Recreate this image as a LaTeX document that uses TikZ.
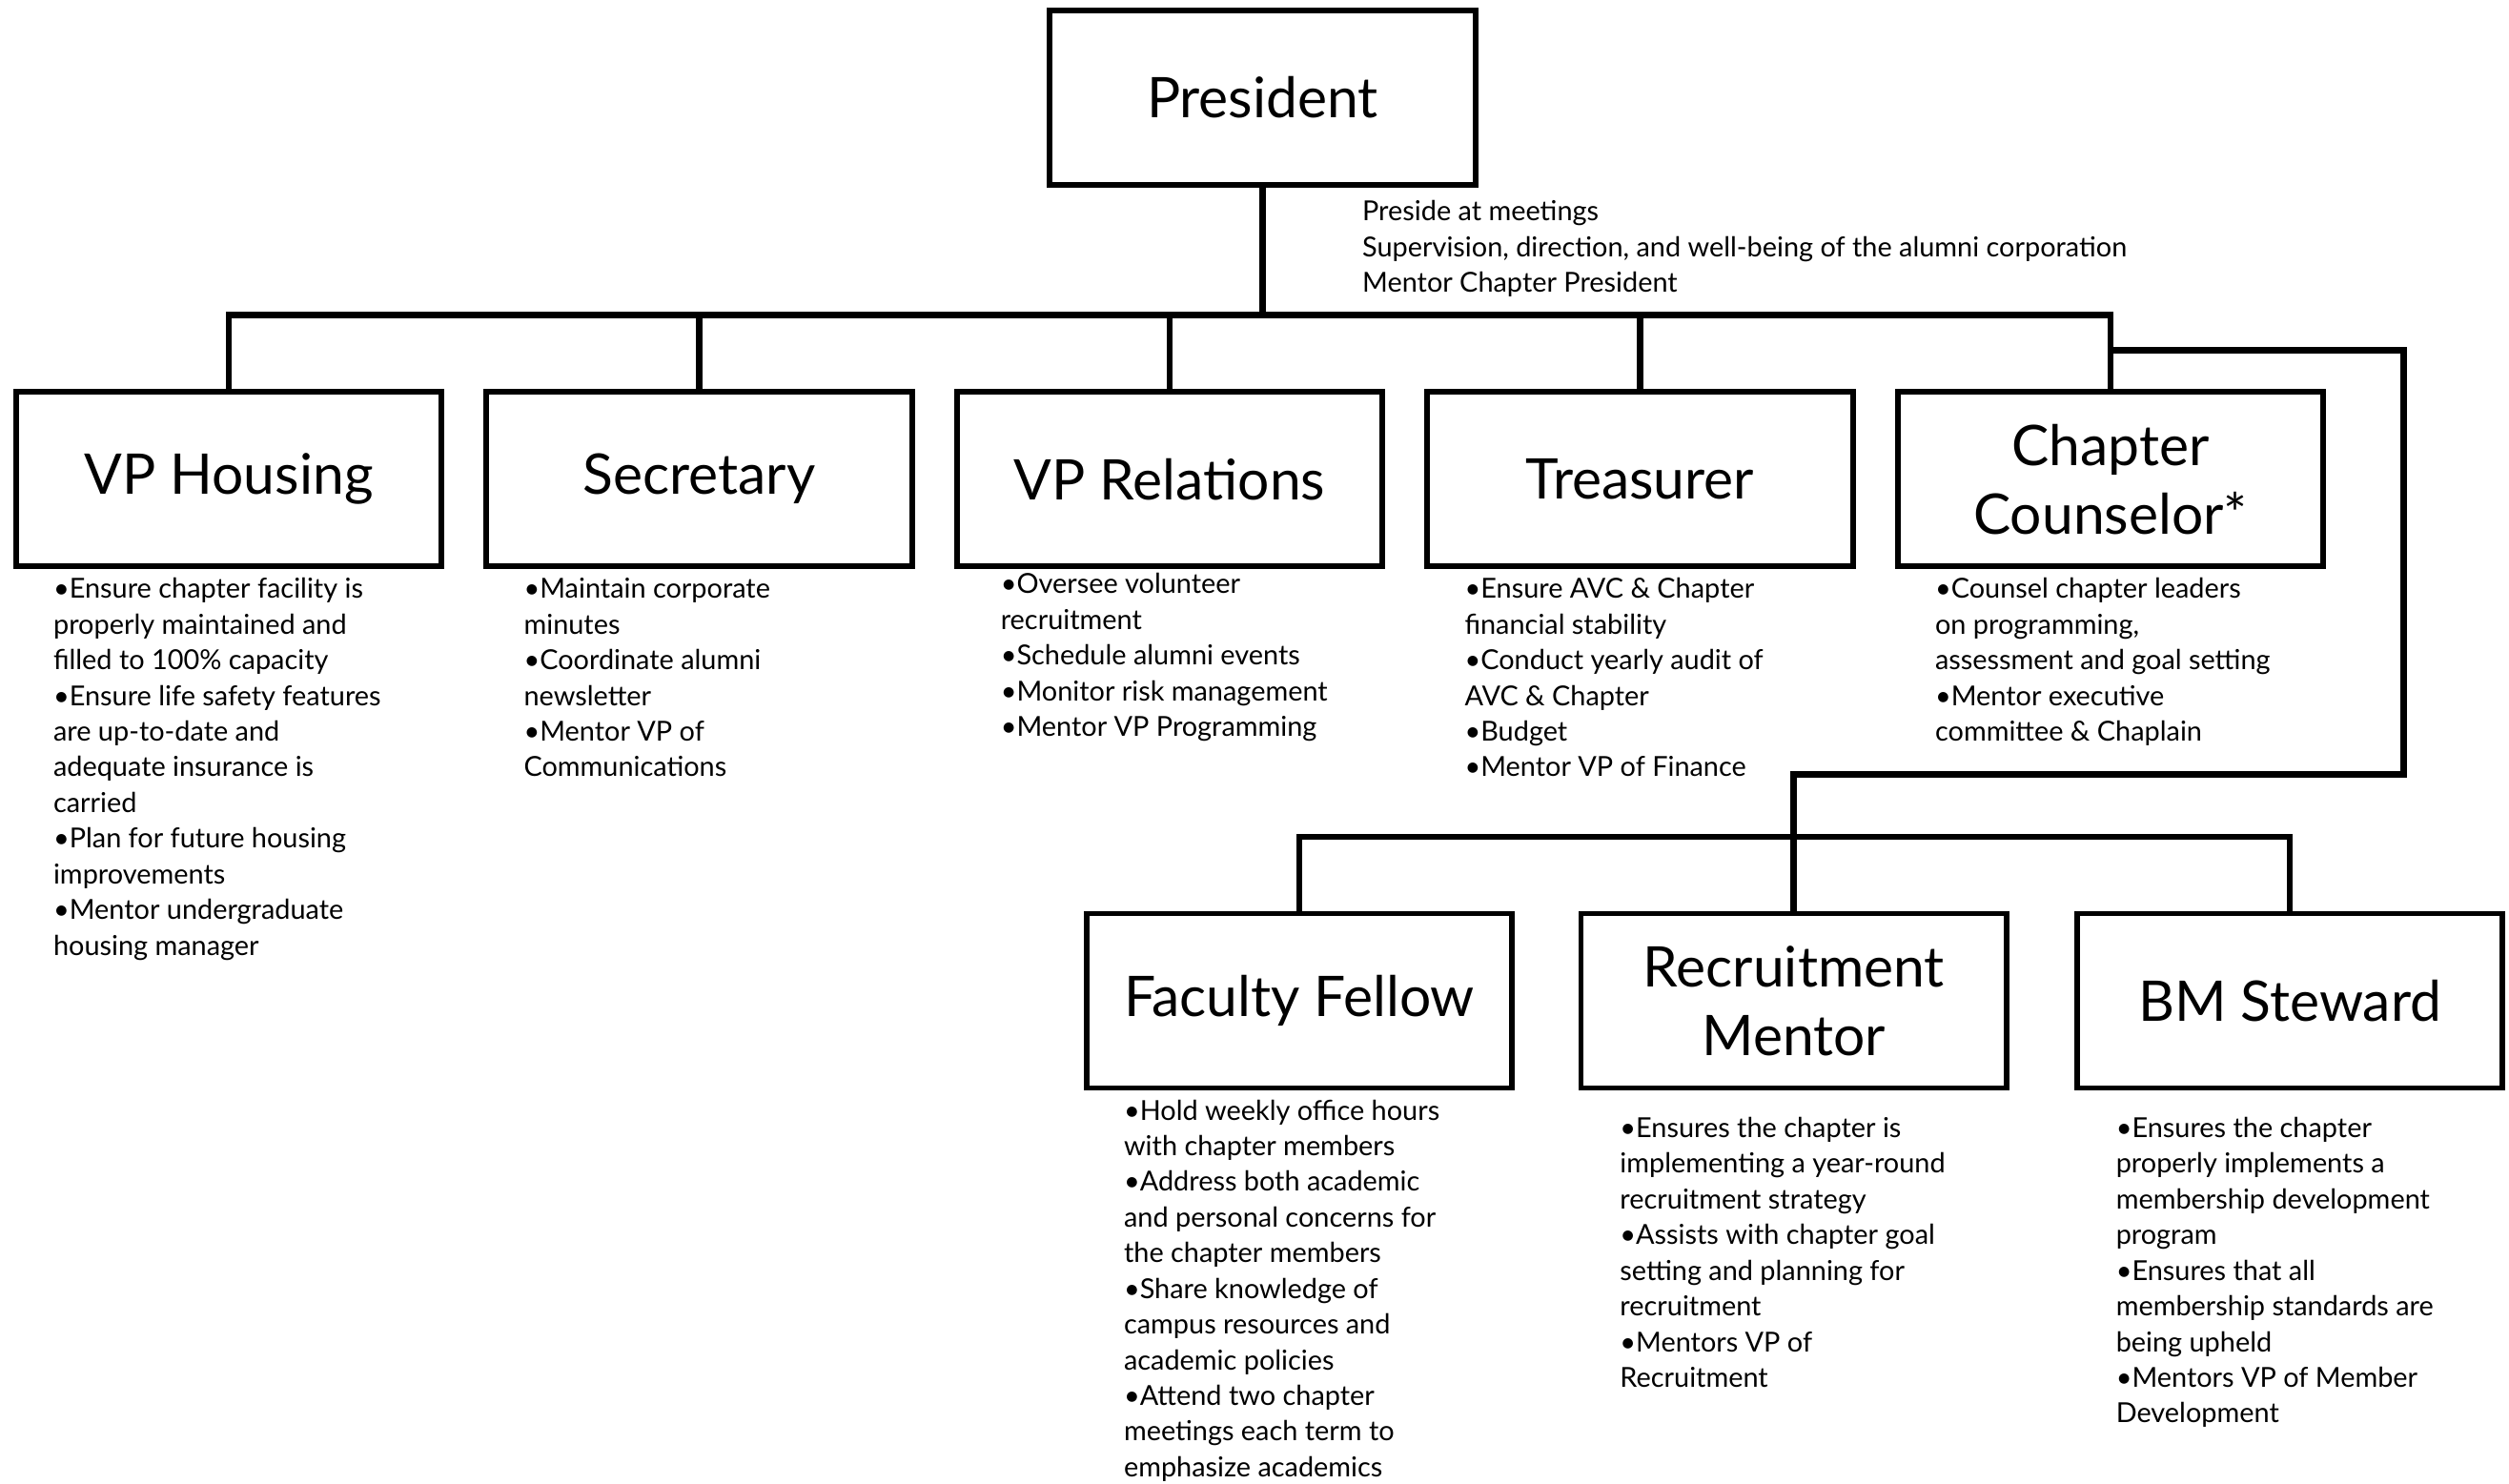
\documentclass[tikz,border=0pt]{standalone}
\usepackage{fontspec}
\setmainfont{Lato}
\usetikzlibrary{positioning}

\tikzset{
  office/.style={draw, line width=1.7pt, minimum width=133pt, minimum height=54.5pt,
    inner sep=0pt, align=center, font=\fontsize{17.5}{21.5}\selectfont},
  duties/.style={anchor=north west, inner sep=0pt, align=left,
    font=\fontsize{8.6}{11.15}\selectfont},
  link/.style={line width=2pt},
}

\begin{document}
\begin{tikzpicture}[x=0.5pt,y=-0.5pt]
  \path[use as bounding box, fill=white] (0,0) rectangle (1568,927);

  % top
  \node[office] (pres) at (789,61) {President};
  \node[duties] (presnote) at (851,122) {\strut Preside at meetings\\
    Supervision, direction, and well-being of the alumni corporation\\
    Mentor Chapter President};

  % officers
  \node[office] (vph) at (143,299.5) {VP Housing};
  \node[office] (sec) at (437,299.5) {Secretary};
  \node[office] (vpr) at (731,299.5) {VP Relations};
  \node[office] (tre) at (1025,299.5) {Treasurer};
  \node[office] (cc) at (1319,299.5) {Chapter\\Counselor*};

  \node[duties] (vphnote) at (33,358) {\strut •Ensure chapter facility is\\
    properly maintained and\\ filled to 100\% capacity\\
    •Ensure life safety features\\ are up-to-date and\\
    adequate insurance is\\ carried\\
    •Plan for future housing\\ improvements\\
    •Mentor undergraduate\\ housing manager};
  \node[duties] (secnote) at (327,358) {\strut •Maintain corporate\\ minutes\\
    •Coordinate alumni\\ newsletter\\
    •Mentor VP of\\ Communications};
  \node[duties] (vprnote) at (625,355) {\strut •Oversee volunteer\\ recruitment\\
    •Schedule alumni events\\
    •Monitor risk management\\
    •Mentor VP Programming};
  \node[duties] (trenote) at (915,358) {\strut •Ensure AVC \& Chapter\\
    financial stability\\
    •Conduct yearly audit of\\ AVC \& Chapter\\
    •Budget\\
    •Mentor VP of Finance};
  \node[duties] (ccnote) at (1209,358) {\strut •Counsel chapter leaders\\
    on programming,\\ assessment and goal setting\\
    •Mentor executive\\ committee \& Chaplain};

  % advisors
  \node[office] (ff) at (812,625.5) {Faculty Fellow};
  \node[office] (rm) at (1121,625.5) {Recruitment\\Mentor};
  \node[office] (bms) at (1431,625.5) {BM Steward};

  \node[duties] (ffnote) at (702,684) {\strut •Hold weekly office hours\\
    with chapter members\\
    •Address both academic\\ and personal concerns for\\ the chapter members\\
    •Share knowledge of\\ campus resources and\\ academic policies\\
    •Attend two chapter\\ meetings each term to\\ emphasize academics};
  \node[duties] (rmnote) at (1012,695) {\strut •Ensures the chapter is\\
    implementing a year-round\\ recruitment strategy\\
    •Assists with chapter goal\\ setting and planning for\\ recruitment\\
    •Mentors VP of\\ Recruitment};
  \node[duties] (bmsnote) at (1322,695) {\strut •Ensures the chapter\\
    properly implements a\\ membership development\\ program\\
    •Ensures that all\\ membership standards are\\ being upheld\\
    •Mentors VP of Member\\ Development};

  % lines
  \coordinate (bar) at (789,197);
  \coordinate (hook) at (1319,219);
  \coordinate (turn) at (1502,484);
  \coordinate (bar2) at (1121,523);

  \draw[link] (pres) -- (bar);
  \draw[link] (vph.north) |- (bar) -| (cc.north);
  \foreach \n in {sec,vpr,tre}
    \draw[link] (\n.north) -- (\n.north |- bar);
  \draw[link] (hook) -| (turn) -| (bar2);
  \draw[link] (ff.north) |- (bar2) -| (bms.north);
  \draw[link] (rm) -- (bar2);
\end{tikzpicture}
\end{document}
